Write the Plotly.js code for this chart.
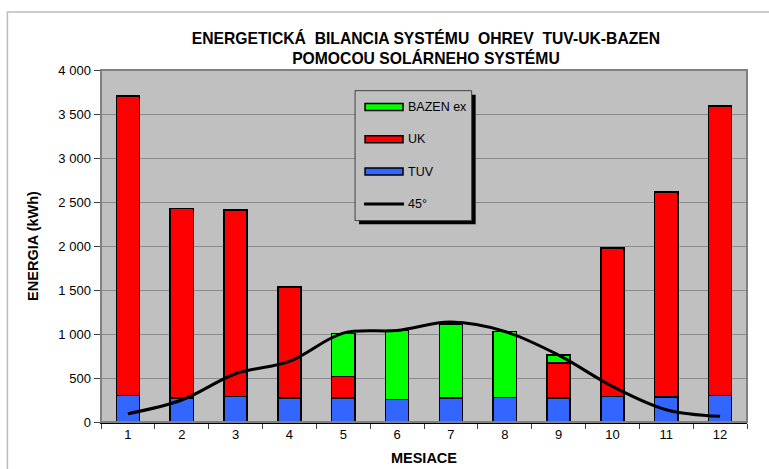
<!DOCTYPE html>
<html>
<head>
<meta charset="utf-8">
<script src="https://cdn.plot.ly/plotly-3.0.1.min.js"></script>
<style>html,body{margin:0;padding:0;background:#fff;}#chart{width:769px;height:469px;}</style>
</head>
<body>
<div id="chart"></div>
<script>
const months = ["1","2","3","4","5","6","7","8","9","10","11","12"];
const tuv   = [302, 272, 291, 272, 272, 257, 272, 276, 275, 291, 283, 302];
const uk    = [3400, 2153, 2119, 1263, 246, null, null, null, 395, 1684, 2328, 3288];
const bazen = [null, null, null, null, 488, 780, 840, 753, 94, null, null, null];
const line45 = [94, 250, 548, 688, 1010, 1040, 1135, 1029, 760, 405, 140, 64];
const legendLabels = ["BAZEN ex", "UK", "TUV", "45°"];

const FONT = "Liberation Sans, Arial, sans-serif";
const barLine = {color: "#000000", width: 1.5};

const traces = [
  {type: "bar", name: "TUV", x: months, y: tuv, marker: {color: "#3366FF", line: barLine}},
  {type: "bar", name: "UK", x: months, y: uk, marker: {color: "#FF0000", line: barLine}},
  {type: "bar", name: "BAZEN ex", x: months, y: bazen, marker: {color: "#00FF00", line: barLine}},
  {type: "scatter", mode: "lines", name: "45°", x: months, y: line45,
   line: {color: "#000000", width: 3, shape: "spline", smoothing: 1}}
];

// geometry helpers (pixel -> paper) for the drawn legend
const L = 100.7, T = 70, W = 646.6, H = 352.3;
const px = v => (v - L) / W;
const py = v => (T + H - v) / H;

const symColors = ["#00FF00", "#FF0000", "#3366FF"];
const rowY = [107, 139.3, 171.7, 204];

const shapes = [
  // outer chart frame
  {type: "rect", xref: "paper", yref: "paper", x0: px(7), x1: 2, y0: -1, y1: py(12),
   line: {color: "#BDBDBD", width: 1.5}, fillcolor: "rgba(0,0,0,0)", layer: "below"},
  // plot area border (top/right)
  {type: "rect", xref: "paper", yref: "paper", x0: 0, x1: 1, y0: 0, y1: 1,
   line: {color: "#808080", width: 2}, fillcolor: "rgba(0,0,0,0)", layer: "above"},
  // legend shadow
  {type: "rect", xref: "paper", yref: "paper", x0: px(359), x1: px(475.7), y0: py(224.3), y1: py(94.7),
   line: {width: 0}, fillcolor: "#000000", layer: "above"},
  // legend box
  {type: "rect", xref: "paper", yref: "paper", x0: px(355), x1: px(471.7), y0: py(220.7), y1: py(90.7),
   line: {color: "#404040", width: 1}, fillcolor: "#C0C0C0", layer: "above"}
];
symColors.forEach((c, i) => {
  shapes.push({type: "rect", xref: "paper", yref: "paper", x0: px(365), x1: px(403),
    y0: py(rowY[i] + 3.5), y1: py(rowY[i] - 3.5), line: {color: "#000000", width: 1.5},
    fillcolor: c, layer: "above"});
});
shapes.push({type: "line", xref: "paper", yref: "paper", x0: px(364), x1: px(404),
  y0: py(rowY[3]), y1: py(rowY[3]), line: {color: "#000000", width: 3}, layer: "above"});

const annotations = legendLabels.map((t, i) => ({
  xref: "paper", yref: "paper", x: px(406), y: py(rowY[i]), xanchor: "left", yanchor: "middle",
  text: t, showarrow: false, font: {family: FONT, size: 12.5, color: "#000000"}
}));

const layout = {
  width: 769, height: 469,
  margin: {l: L, r: 769 - L - W, t: T, b: 469 - T - H, pad: 0},
  paper_bgcolor: "#FFFFFF",
  plot_bgcolor: "#C0C0C0",
  barmode: "stack",
  bargap: 0.57,
  showlegend: false,
  separators: ", ",
  font: {family: FONT, size: 13, color: "#000000"},
  title: {
    text: "<b>ENERGETICKÁ\u00A0 BILANCIA SYSTÉMU\u00A0 OHREV\u00A0 TUV-UK-BAZEN<br>POMOCOU SOLÁRNEHO SYSTÉMU</b>",
    font: {family: FONT, size: 15.7, color: "#000000"},
    xref: "paper", x: 0.503, xanchor: "center",
    yref: "container", y: 1 - 44 / 469, yanchor: "middle"
  },
  xaxis: {
    type: "category",
    title: {text: "<b>MESIACE</b>", font: {family: FONT, size: 14.5}, standoff: 12},
    showgrid: false, zeroline: false,
    showline: true, linecolor: "#000000", linewidth: 1.5,
    ticks: "outside", tickson: "boundaries", ticklen: 5, tickcolor: "#404040", tickwidth: 1,
    tickfont: {family: FONT, size: 13, color: "#000000"},
    fixedrange: true
  },
  yaxis: {
    range: [0, 4000], dtick: 500, tickformat: ",d",
    title: {text: "<b>ENERGIA (kWh)</b>", font: {family: FONT, size: 14.5}, standoff: 16},
    showgrid: true, gridcolor: "#8A8A8A", gridwidth: 1,
    zeroline: false,
    showline: true, linecolor: "#000000", linewidth: 1.5,
    ticks: "outside", ticklen: 6, tickcolor: "#404040", tickwidth: 1,
    tickfont: {family: FONT, size: 13, color: "#000000"},
    fixedrange: true
  },
  shapes: shapes,
  annotations: annotations
};

Plotly.newPlot("chart", traces, layout, {displayModeBar: false, staticPlot: true});
</script>
</body>
</html>
